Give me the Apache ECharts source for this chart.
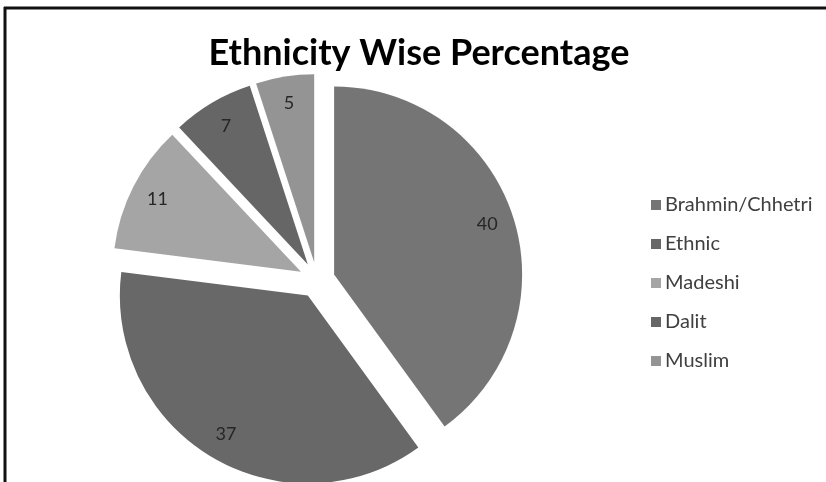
<!DOCTYPE html>
<html>
<head>
<meta charset="utf-8">
<script src="https://cdn.jsdelivr.net/npm/echarts@6/dist/echarts.min.js"></script>
<style>
html,body{margin:0;padding:0;background:#fff;}
#chart{width:826px;height:482px;}
</style>
</head>
<body>
<div id="chart"></div>
<script>
const categories = ["Brahmin/Chhetri", "Ethnic", "Madeshi", "Dalit", "Muslim"];
const values = [40, 37, 11, 7, 5];
const colors = ["#757575", "#686868", "#a5a5a5", "#666666", "#949494"];
const titleText = "Ethnicity Wise Percentage";

const chart = echarts.init(document.getElementById('chart'), null, {renderer: 'canvas'});

const pieData = categories.map((name, i) => ({
  name: name, value: values[i], selected: true,
  itemStyle: {color: colors[i]}
}));
const labelData = categories.map((name, i) => ({
  name: name, value: values[i], selected: true
}));

const center = [317, 280];
const R = 188;
const OFF = 18;

chart.setOption({
  animation: false,
  backgroundColor: '#ffffff',
  title: {
    text: titleText,
    left: 414,
    top: 30,
    textAlign: 'center',
    textStyle: {fontFamily: 'Lato', fontWeight: 'bold', fontSize: 36, color: '#000000'}
  },
  legend: {
    orient: 'vertical',
    left: 646,
    top: 190,
    itemWidth: 10,
    itemHeight: 10,
    itemGap: 19,
    icon: 'rect',
    selectedMode: false,
    data: categories,
    textStyle: {fontFamily: 'Lato', fontSize: 20, color: '#404040', padding: [0, 0, 0, -1]}
  },
  graphic: [
    {type: 'line', shape: {x1: 4, y1: 8, x2: 826, y2: 8}, style: {stroke: '#111', lineWidth: 3}},
    {type: 'line', shape: {x1: 5, y1: 7, x2: 5, y2: 482}, style: {stroke: '#111', lineWidth: 3}}
  ],
  series: [
    {
      type: 'pie',
      center: center,
      radius: [0, R],
      startAngle: 90,
      clockwise: true,
      selectedMode: 'multiple',
      selectedOffset: OFF,
      avoidLabelOverlap: false,
      silent: true,
      label: {show: false},
      labelLine: {show: false},
      emphasis: {disabled: true},
      data: pieData
    },
    {
      type: 'pie',
      center: center,
      radius: [128, R],
      startAngle: 90,
      clockwise: true,
      selectedMode: 'multiple',
      selectedOffset: OFF,
      avoidLabelOverlap: false,
      silent: true,
      itemStyle: {color: 'rgba(0,0,0,0)'},
      label: {show: true, position: 'inside', formatter: '{c}', fontFamily: 'Lato', fontSize: 18, color: '#262626'},
      labelLine: {show: false},
      emphasis: {disabled: true},
      data: labelData
    }
  ]
});
</script>
</body>
</html>
